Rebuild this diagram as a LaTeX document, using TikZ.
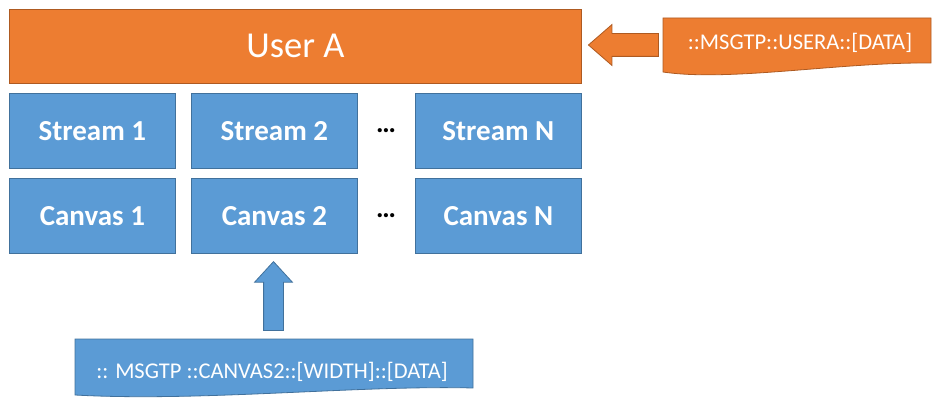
\documentclass[tikz,border=0pt]{standalone}
\usepackage{fontspec}
\setmainfont{Carlito}
\usetikzlibrary{shapes.arrows,calc}
\definecolor{boxorange}{HTML}{ED7D31}
\definecolor{edgeorange}{HTML}{AE5A21}
\definecolor{boxblue}{HTML}{5B9BD5}
\definecolor{edgeblue}{HTML}{41719C}
\begin{document}
\begin{tikzpicture}[x=1pt,y=-1pt,
  userbox/.style={draw=edgeorange, fill=boxorange, line width=0.8pt, text=white,
    font=\fontsize{36.5}{40}\selectfont, minimum width=572pt, minimum height=74pt,
    anchor=north west, inner sep=0pt},
  bluebox/.style={draw=edgeblue, fill=boxblue, line width=0.8pt, text=white,
    font=\bfseries\fontsize{29}{32}\selectfont, minimum width=166pt, minimum height=75pt,
    anchor=north west, inner sep=0pt},
  dotsnode/.style={text=black, font=\bfseries\fontsize{28}{32}\selectfont, inner sep=0pt},
  msgtext/.style={text=white, font=\fontsize{22.5}{26}\selectfont, inner sep=0pt},
  orangedoc/.style={draw=edgeorange, fill=boxorange, line width=0.8pt},
  bluedoc/.style={draw=edgeblue, fill=boxblue, line width=0.8pt},
  blockarrow/.style={single arrow, line width=0.8pt, minimum width=0pt, single arrow head indent=0pt}
]
\useasboundingbox (0,0) rectangle (932,398);

% user bar
\node[userbox] (userA) at (9,9) {User A};

% streams
\node[bluebox] (stream1) at (9,93) {Stream 1};
\node[bluebox] (stream2) at (191,93) {Stream 2};
\node[bluebox] (streamN) at (415,93) {Stream N};
\node[dotsnode] (sdots) at (386,131) {…};

% canvases
\node[bluebox] (canvas1) at (9,178) {Canvas 1};
\node[bluebox] (canvas2) at (191,178) {Canvas 2};
\node[bluebox] (canvasN) at (415,178) {Canvas N};
\node[dotsnode] (cdots) at (386,216) {…};

% message for the user bar
\filldraw[orangedoc] (663,18) -- (931,18) -- (931,63)
  .. controls (840,62) and (730,82) .. (663,72) -- cycle;
\node[msgtext] (msgA) at (800,43) {::MSGTP::USERA::[DATA]};
\node[blockarrow, draw=edgeorange, fill=boxorange, shape border rotate=180,
  minimum height=70pt, inner sep=11pt, single arrow head extend=9pt,
  single arrow tip angle=82] (arrA) at (630,45) {};

% message for the second canvas
\filldraw[bluedoc] (75,339) -- (473,339) -- (473,388)
  .. controls (360,385) and (200,402) .. (75,395) -- cycle;
\node[msgtext] (msgC) at (272,372) {:: MSGTP ::CANVAS2::[WIDTH]::[DATA]};
\node[blockarrow, draw=edgeblue, fill=boxblue, shape border rotate=90,
  minimum height=69pt, inner sep=9.5pt, single arrow head extend=9pt,
  single arrow tip angle=85] (arrC) at (273.5,301.5) {};
\end{tikzpicture}
\end{document}
